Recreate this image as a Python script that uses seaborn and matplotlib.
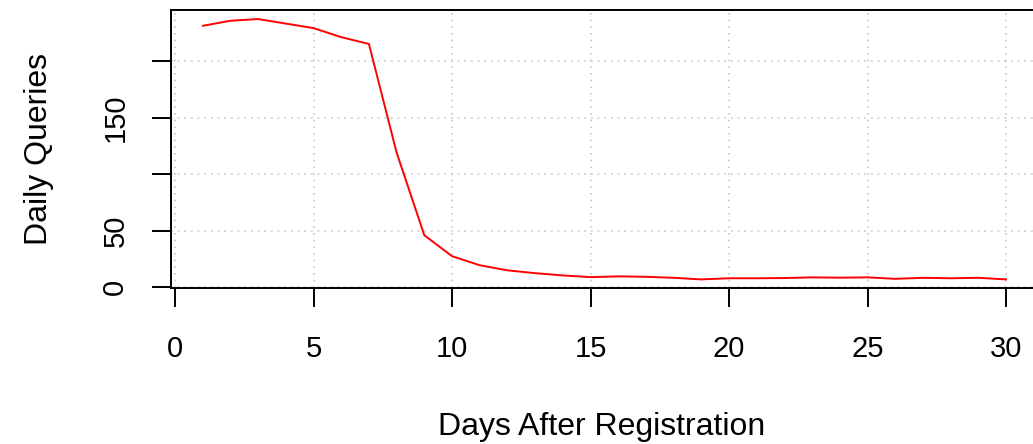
import numpy as np
import pandas as pd
import matplotlib
matplotlib.use("Agg")
import matplotlib.pyplot as plt
import seaborn as sns

# Data
days = list(range(1, 31))
queries = [231, 235.5, 237, 233, 229, 221, 215, 119, 46, 27.5,
           19.5, 15, 12.5, 10.5, 9, 9.7, 9.3, 8.4, 7, 8,
           8, 8.2, 8.8, 8.5, 8.8, 7.5, 8.4, 8, 8.4, 7]
x_ticks = [0, 5, 10, 15, 20, 25, 30]
y_ticks = [0, 50, 100, 150, 200]
y_tick_labels = ["0", "50", "", "150", ""]

df = pd.DataFrame({"day": days, "queries": queries})

sns.set_style("white")
plt.rcParams["font.family"] = ["Liberation Sans", "DejaVu Sans"]
plt.rcParams["text.color"] = "black"
plt.rcParams["axes.labelcolor"] = "black"

fig = plt.figure(figsize=(10.33, 4.44), dpi=100)
ax = fig.add_axes([171 / 1033, 1 - 288 / 444, 1 - 171 / 1033, (288 - 10) / 444])

sns.lineplot(data=df, x="day", y="queries", color="red", linewidth=1.4, ax=ax)

ax.set_xlim(-0.144, 30.97)
ax.set_ylim(-0.6, 245)
ax.set_xticks(x_ticks)
ax.set_yticks(y_ticks)
ax.set_yticklabels(y_tick_labels, rotation=90, va="center")

ax.grid(True, color="#c8c8c8", linestyle=(0, (1, 3)), linewidth=1.2)
ax.set_axisbelow(True)

for side in ["left", "top", "bottom"]:
    ax.spines[side].set_color("black")
    ax.spines[side].set_linewidth(1.4)
ax.spines["right"].set_visible(False)

ax.tick_params(axis="both", direction="out", length=14, width=1.4,
               bottom=True, left=True, color="black",
               labelsize=21, labelcolor="black")
ax.tick_params(axis="x", pad=20)
ax.tick_params(axis="y", pad=16)

ax.set_xlabel("Days After Registration", fontsize=23, labelpad=35, color="black")
ax.set_ylabel("Daily Queries", fontsize=23, labelpad=34, color="black")

fig.savefig("out.png", dpi=100)
